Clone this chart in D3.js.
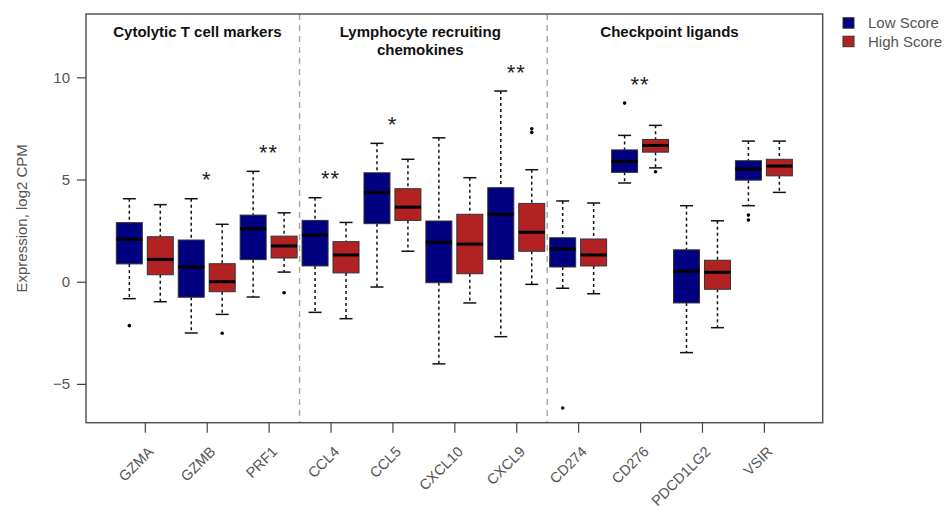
<!DOCTYPE html>
<html><head><meta charset="utf-8">
<script src="https://cdn.jsdelivr.net/npm/d3@7"></script>
<style>body{margin:0;background:#fff;}svg{display:block;font-family:"Liberation Sans",Arial,sans-serif;}</style>
</head><body>
<svg id="c" width="949" height="510"></svg>
<script>
const genes = ["GZMA","GZMB","PRF1","CCL4","CCL5","CXCL10","CXCL9","CD274","CD276","PDCD1LG2","VSIR"];
// [lower whisker, Q1, median, Q3, upper whisker]
const lowStats = [
  [-0.83,0.87,2.07,2.89,4.06],
  [-2.51,-0.76,0.72,2.04,4.06],
  [-0.75,1.08,2.59,3.26,5.40],
  [-1.50,0.77,2.28,3.00,4.11],
  [-0.26,2.84,4.37,5.33,6.77],
  [-4.02,-0.05,1.93,2.97,7.04],
  [-2.69,1.09,3.30,4.60,9.33],
  [-0.32,0.72,1.60,2.15,3.95],
  [4.83,5.35,5.89,6.45,7.16],
  [-3.47,-1.04,0.51,1.56,3.72],
  [3.72,4.97,5.51,5.92,6.88]
];
const highStats = [
  [-0.98,0.34,1.09,2.20,3.77],
  [-1.60,-0.49,0.00,0.88,2.81],
  [0.47,1.16,1.75,2.23,3.37],
  [-1.81,0.43,1.31,1.96,2.90],
  [1.49,3.00,3.65,4.55,5.99],
  [-1.04,0.39,1.84,3.30,5.09],
  [-0.13,1.49,2.42,3.83,5.48],
  [-0.59,0.77,1.31,2.09,3.85],
  [5.57,6.34,6.67,6.96,7.65],
  [-2.25,-0.37,0.46,1.05,2.98],
  [4.37,5.18,5.66,5.99,6.88]
];
const lowOutliers = [[-2.15],[],[],[],[],[],[],[-6.18],[8.74],[],[3.26,3.02]];
const highOutliers = [[],[-2.52],[-0.54],[],[],[],[7.30,7.48],[],[5.38],[],[]];
const signif = ["","*","**","**","*","","**","","**","",""];
const sections = [["Cytolytic T cell markers"],["Lymphocyte recruiting","chemokines"],["Checkpoint ligands"]];
const seriesNames = ["Low Score","High Score"];
const seriesColors = ["#000080","#B22222"];
const yTicks = [-5,0,5,10];

const svg = d3.select("#c");
const L=86, R=822.7, T=14, B=422.7;
const x = d3.scaleLinear().domain([-0.4,23.4]).range([L,R]);
const y = d3.scaleLinear().domain([-6.9,13.1]).range([B,T]);
const bw = (x(2)-x(1))*0.84;
const capW = bw*0.5;

// dividers
[6.5,14.5].forEach(p=>{
  svg.append("line").attr("x1",x(p)).attr("x2",x(p)).attr("y1",T).attr("y2",B)
    .attr("stroke","#aaa").attr("stroke-width",1.5).attr("stroke-dasharray","6,5");
});

// boxes
const boxes=[];
genes.forEach((g,i)=>{
  boxes.push({pos:2*i+1, s:lowStats[i], o:lowOutliers[i], c:seriesColors[0]});
  boxes.push({pos:2*i+2, s:highStats[i], o:highOutliers[i], c:seriesColors[1]});
});
const bg = svg.append("g");
boxes.forEach(b=>{
  const cx=x(b.pos), [lw,q1,md,q3,uw]=b.s;
  const g=bg.append("g");
  g.append("line").attr("x1",cx).attr("x2",cx).attr("y1",y(uw)).attr("y2",y(q3))
    .attr("stroke","#111").attr("stroke-width",1.5).attr("stroke-dasharray","3,3");
  g.append("line").attr("x1",cx).attr("x2",cx).attr("y1",y(q1)).attr("y2",y(lw))
    .attr("stroke","#111").attr("stroke-width",1.5).attr("stroke-dasharray","3,3");
  [lw,uw].forEach(v=>g.append("line").attr("x1",cx-capW/2).attr("x2",cx+capW/2)
    .attr("y1",y(v)).attr("y2",y(v)).attr("stroke","#111").attr("stroke-width",1.5));
  g.append("rect").attr("x",cx-bw/2).attr("width",bw).attr("y",y(q3)).attr("height",y(q1)-y(q3))
    .attr("fill",b.c).attr("stroke","#333").attr("stroke-width",1);
  g.append("line").attr("x1",cx-bw/2).attr("x2",cx+bw/2).attr("y1",y(md)).attr("y2",y(md))
    .attr("stroke","#000").attr("stroke-width",3);
  b.o.forEach(v=>g.append("circle").attr("cx",cx).attr("cy",y(v)).attr("r",1.8).attr("fill","#000"));
});

// significance stars
genes.forEach((g,i)=>{
  if(!signif[i]) return;
  const mx = d3.max([lowStats[i][4],highStats[i][4],...lowOutliers[i],...highOutliers[i]]);
  svg.append("text").attr("x",x(2*i+1.5)).attr("y",y(mx+1.0)+9)
    .attr("text-anchor","middle").attr("font-size",22).attr("fill","#222")
    .attr("letter-spacing",1).text(signif[i]);
});

// frame
svg.append("rect").attr("x",L).attr("y",T).attr("width",R-L).attr("height",B-T)
  .attr("fill","none").attr("stroke","#555").attr("stroke-width",1.5);

// y axis
const ya = svg.append("g").attr("transform",`translate(${L},0)`)
  .call(d3.axisLeft(y).tickValues(yTicks).tickSize(9).tickPadding(7).tickFormat(d=>d<0?"\u2212"+(-d):d));
ya.select(".domain").remove();
ya.selectAll(".tick line").attr("stroke","#444").attr("stroke-width",1.2);
ya.selectAll(".tick text").attr("font-size",15).attr("fill","#555").attr("font-family","Liberation Sans, Arial, sans-serif");

// x axis
const xa = svg.append("g").attr("transform",`translate(0,${B})`)
  .call(d3.axisBottom(x).tickValues(genes.map((g,i)=>2*i+1.5)).tickSize(10).tickFormat(""));
xa.select(".domain").remove();
xa.selectAll(".tick line").attr("stroke","#444").attr("stroke-width",1.2);
genes.forEach((g,i)=>{
  const px=x(2*i+1.5)+6, py=449;
  svg.append("text").attr("transform",`translate(${px},${py}) rotate(-45)`)
    .attr("text-anchor","end").attr("dy","0.35em").attr("font-size",14.5).attr("fill","#555").text(g);
});

// y label
svg.append("text").attr("transform",`translate(27,${(T+B)/2}) rotate(-90)`)
  .attr("text-anchor","middle").attr("font-size",15).attr("fill","#555").text("Expression, log2 CPM");

// section titles
const secX=[3.2,10.4,18.45];
sections.forEach((lines,k)=>{
  lines.forEach((ln,j)=>{
    svg.append("text").attr("x",x(secX[k])).attr("y",36.5+j*18.5).attr("text-anchor","middle")
      .attr("font-size",15).attr("font-weight","bold").attr("fill","#111").text(ln);
  });
});

// legend
seriesNames.forEach((n,k)=>{
  const ly=17.7+k*18.5;
  svg.append("rect").attr("x",843).attr("y",ly).attr("width",11).attr("height",10.5)
    .attr("fill",seriesColors[k]).attr("stroke","#333").attr("stroke-width",1);
  svg.append("text").attr("x",868).attr("y",ly+5.5).attr("dy","0.35em").attr("font-size",15)
    .attr("fill","#555").text(n);
});
</script>
</body></html>
